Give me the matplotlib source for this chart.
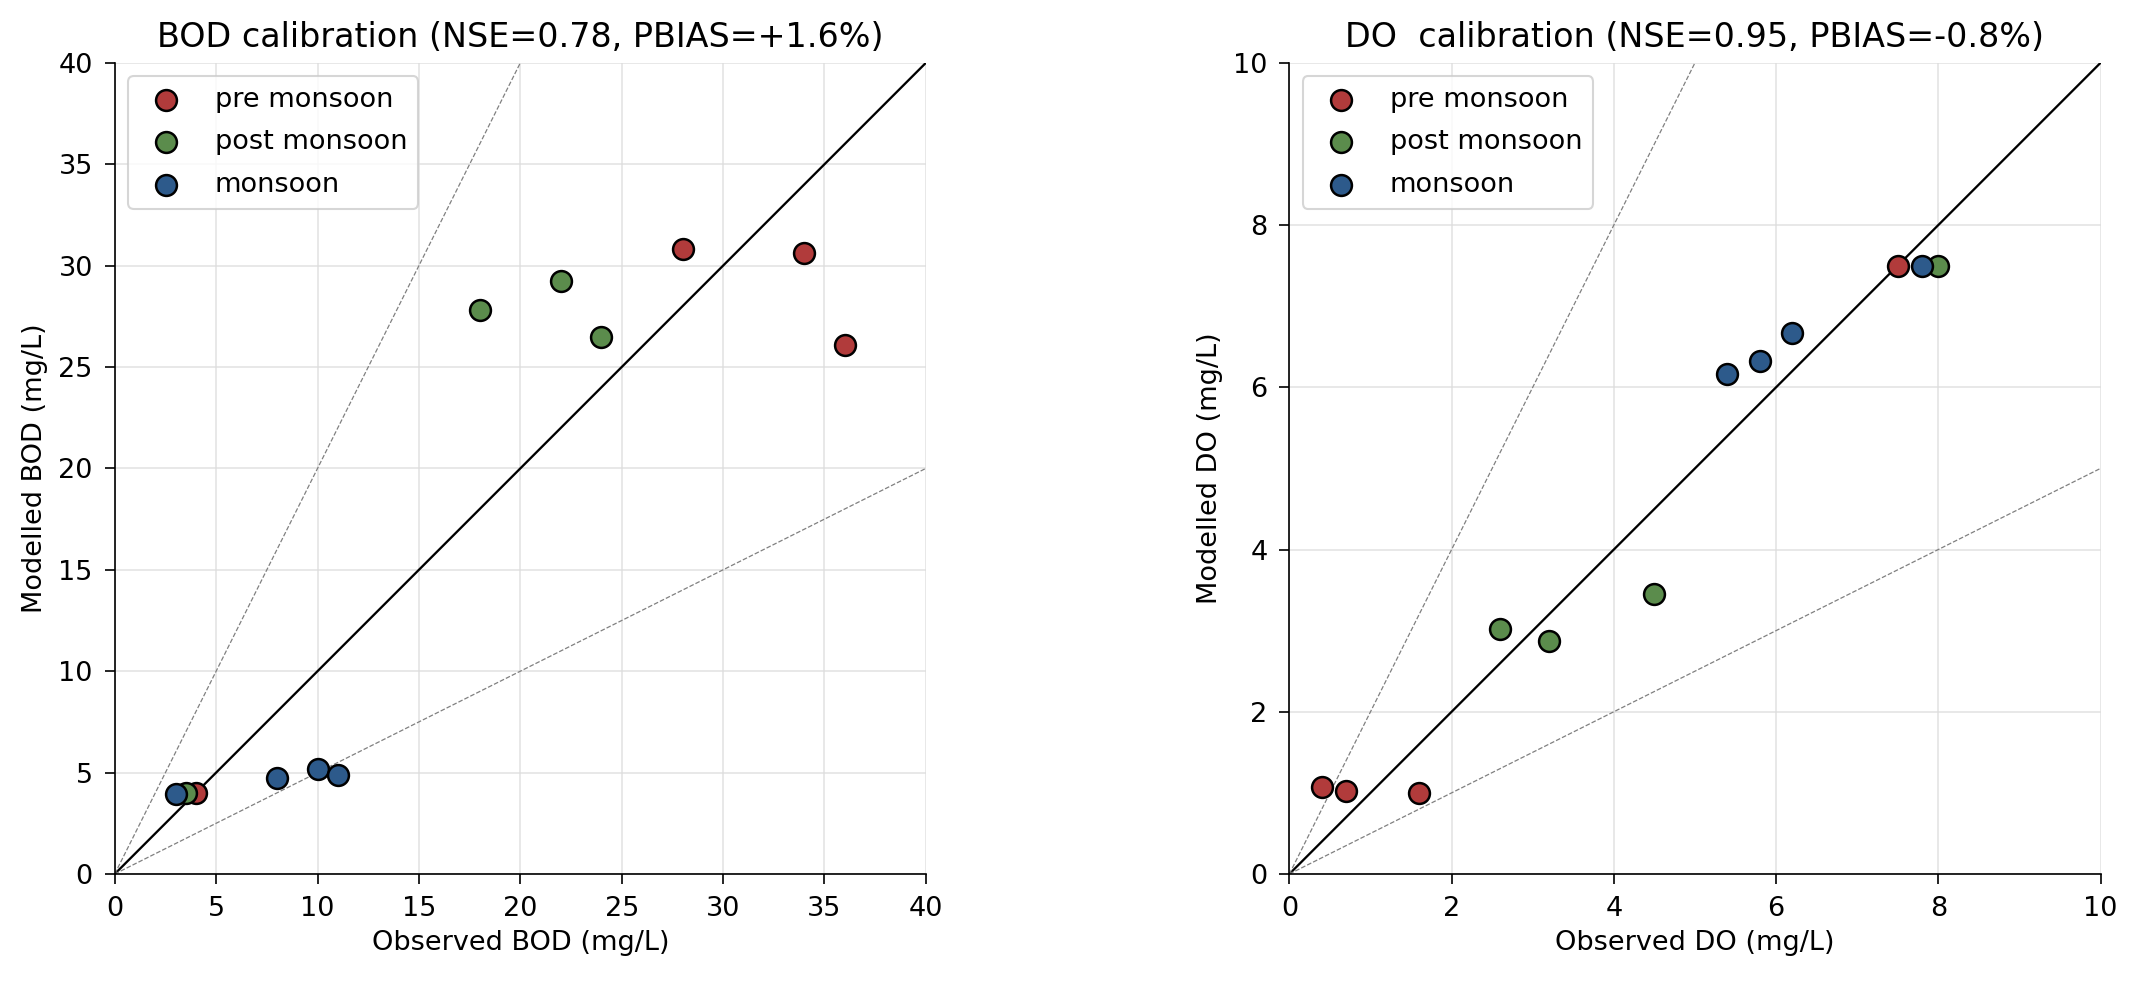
import matplotlib
matplotlib.use("Agg")
import matplotlib.pyplot as plt
import numpy as np

plt.rcParams['font.size'] = 13
plt.rcParams['xtick.major.size'] = 5
plt.rcParams['ytick.major.size'] = 5
plt.rcParams['xtick.major.pad'] = 5.5
plt.rcParams['ytick.major.pad'] = 5.5

# seasons and colours
seasons = ['pre monsoon', 'post monsoon', 'monsoon']
colors = {'pre monsoon': '#B13B3B', 'post monsoon': '#5B8C4C', 'monsoon': '#2D5A8B'}

# BOD observed / modelled (mg/L)
bod_obs = {'pre monsoon': [4, 28, 34, 36],
           'post monsoon': [3.5, 18, 22, 24],
           'monsoon': [3, 8, 10, 11]}
bod_mod = {'pre monsoon': [4.0, 30.8, 30.6, 26.1],
           'post monsoon': [4.0, 27.8, 29.25, 26.5],
           'monsoon': [3.95, 4.75, 5.2, 4.9]}

# DO observed / modelled (mg/L)
do_obs = {'pre monsoon': [0.4, 0.7, 1.6, 7.5],
          'post monsoon': [2.6, 3.2, 4.5, 8.0],
          'monsoon': [5.4, 5.8, 6.2, 7.8]}
do_mod = {'pre monsoon': [1.07, 1.02, 1.0, 7.5],
          'post monsoon': [3.02, 2.87, 3.45, 7.5],
          'monsoon': [6.17, 6.33, 6.67, 7.5]}

fig = plt.figure(figsize=(2139 / 150, 982 / 150), dpi=150)
ax1 = fig.add_axes([0.0536, 0.110, 0.3793, 0.826])
ax2 = fig.add_axes([0.6026, 0.110, 0.3796, 0.826])


def panel(ax, obs, mod, lim, step, name, title):
    xs = np.array([0, lim])
    ax.plot(xs, xs, color='black', lw=1.1, zorder=2)
    ax.plot(xs, 2 * xs, color='gray', lw=0.6, ls='--', zorder=2)
    ax.plot(xs, 0.5 * xs, color='gray', lw=0.6, ls='--', zorder=2)
    for s in seasons:
        ax.scatter(obs[s], mod[s], s=100, color=colors[s], edgecolor='black',
                   linewidth=1.2, label=s, zorder=3)
    ax.set_xlim(0, lim)
    ax.set_ylim(0, lim)
    ax.set_xticks(np.arange(0, lim + 0.01, step))
    ax.set_yticks(np.arange(0, lim + 0.01, step))
    ax.set_aspect('equal')
    ax.grid(True, color='#dddddd', lw=0.8, alpha=0.8)
    ax.set_axisbelow(True)
    ax.spines['top'].set_visible(False)
    ax.spines['right'].set_visible(False)
    ax.set_xlabel('Observed %s (mg/L)' % name, labelpad=4)
    ax.set_ylabel('Modelled %s (mg/L)' % name, labelpad=5)
    ax.set_title(title, fontsize=16, pad=7.5)
    ax.legend(loc='upper left', labelspacing=0.6)


panel(ax1, bod_obs, bod_mod, 40, 5, 'BOD', 'BOD calibration (NSE=0.78, PBIAS=+1.6%)')
panel(ax2, do_obs, do_mod, 10, 2, 'DO', 'DO  calibration (NSE=0.95, PBIAS=-0.8%)')

plt.savefig('out.png', dpi=150)
